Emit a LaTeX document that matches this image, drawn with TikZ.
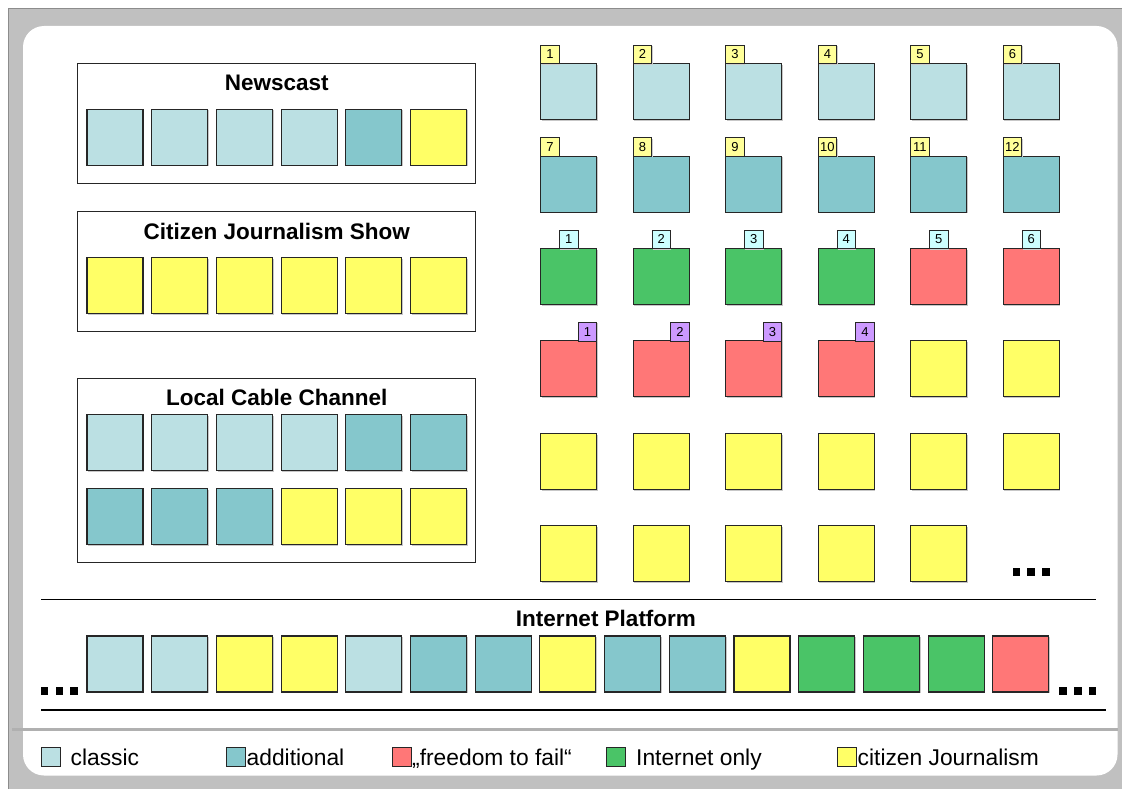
\documentclass[tikz,border=0pt]{standalone}
\usepackage{fontspec}
\setmainfont{Liberation Sans}
\usetikzlibrary{shadows}

\definecolor{classic}{RGB}{187,224,227}
\definecolor{additional}{RGB}{133,199,204}
\definecolor{citizen}{RGB}{255,255,102}
\definecolor{webonly}{RGB}{74,196,103}
\definecolor{failred}{RGB}{255,119,119}
\definecolor{tagyellow}{RGB}{255,255,153}
\definecolor{tagcyan}{RGB}{204,255,255}
\definecolor{tagviolet}{RGB}{204,153,255}
\definecolor{framegray}{RGB}{192,192,192}
\definecolor{rulegray}{RGB}{176,176,176}
\definecolor{edge}{RGB}{38,38,38}

\tikzset{
  tile/.style={draw=edge, line width=1.1pt, minimum width=56pt, minimum height=56pt,
    inner sep=0pt, outer sep=0pt, anchor=north west,
    drop shadow={shadow xshift=1.2pt, shadow yshift=-1.2pt, fill=black!22, opacity=1}},
  tag/.style={draw=edge, line width=0.8pt, minimum width=18.5pt, minimum height=18.5pt,
    inner sep=0pt, outer sep=0pt, font=\fontsize{13}{13}\selectfont,
    drop shadow={shadow xshift=1pt, shadow yshift=-1pt, fill=black!20, opacity=1}},
  groupbox/.style={draw=edge, line width=1pt, minimum width=398pt, inner sep=0pt,
    outer sep=0pt, anchor=north west},
  title/.style={anchor=base, inner sep=0pt, font=\fontsize{22.5}{26}\selectfont\bfseries},
  dotmark/.style={fill=black, minimum width=7.5pt, minimum height=7.5pt, inner sep=0pt, anchor=north west},
  keybox/.style={draw=edge, line width=0.9pt, minimum width=19pt, minimum height=19pt,
    inner sep=0pt, anchor=north west},
  keytext/.style={anchor=base west, inner sep=0pt, font=\fontsize{22.8}{26}\selectfont},
  rule/.style={draw=black, line width=1.3pt}
}

\begin{document}
\begin{tikzpicture}[x=1pt, y=-1pt]
\useasboundingbox (0,0) rectangle (1122,789);
\fill[white] (0,0) rectangle (1122,789);

% frame and panels
\filldraw[fill=framegray, draw=black!45, line width=0.8pt] (8,8) rectangle (1130,800);
\fill[white, rounded corners=21pt] (23,26) rectangle (1117.5,775.5);
\draw[rulegray, line width=3pt] (12,729) -- (1117.5,729);

% ---------- Newscast ----------
\node[groupbox, minimum height=120.4pt] (newscast) at (77.7,63.3) {};
\node[title] (newscast-t) at (276.7,91) {Newscast};
\foreach \i/\col in {1/classic,2/classic,3/classic,4/classic,5/additional,6/citizen} {
  \node[tile, fill=\col] (nw\i) at ({87+64.7*(\i-1)},109.3) {};
}

% ---------- Citizen Journalism Show ----------
\node[groupbox, minimum height=120pt] (cjshow) at (77.7,211.7) {};
\node[title] (cjshow-t) at (276.7,239.3) {Citizen Journalism Show};
\foreach \i in {1,...,6} {
  \node[tile, fill=citizen] (cj\i) at ({87+64.7*(\i-1)},257.3) {};
}

% ---------- Local Cable Channel ----------
\node[groupbox, minimum height=184.4pt] (cable) at (77.7,378.3) {};
\node[title] (cable-t) at (276.7,405) {Local Cable Channel};
\foreach \i/\col in {1/classic,2/classic,3/classic,4/classic,5/additional,6/additional} {
  \node[tile, fill=\col] (lca\i) at ({87+64.7*(\i-1)},414.3) {};
}
\foreach \i/\col in {1/additional,2/additional,3/additional,4/citizen,5/citizen,6/citizen} {
  \node[tile, fill=\col] (lcb\i) at ({87+64.7*(\i-1)},488.3) {};
}

% ---------- numbered grid ----------
\foreach \c in {1,...,6} {
  \node[tile, fill=classic] (ga\c) at ({540.7+92.5*(\c-1)},63.7) {};
  \node[tag, fill=tagyellow, anchor=south west] (ga\c-n) at (ga\c.north west) {\c};
}
\foreach \c in {1,...,6} {
  \pgfmathtruncatemacro\num{\c+6}
  \node[tile, fill=additional] (gb\c) at ({540.7+92.5*(\c-1)},156.1) {};
  \node[tag, fill=tagyellow, anchor=south west] (gb\c-n) at (gb\c.north west) {\num};
}
\foreach \c/\col in {1/webonly,2/webonly,3/webonly,4/webonly,5/failred,6/failred} {
  \node[tile, fill=\col] (gc\c) at ({540.7+92.5*(\c-1)},248.5) {};
  \node[tag, fill=tagcyan, anchor=south] (gc\c-n) at (gc\c.north) {\c};
}
\foreach \c in {1,...,4} {
  \node[tile, fill=failred] (gd\c) at ({540.7+92.5*(\c-1)},340.9) {};
  \node[tag, fill=tagviolet, anchor=south east] (gd\c-n) at (gd\c.north east) {\c};
}
\foreach \c in {5,6} {
  \node[tile, fill=citizen] (gd\c) at ({540.7+92.5*(\c-1)},340.9) {};
}
\foreach \c in {1,...,6} {
  \node[tile, fill=citizen] (ge\c) at ({540.7+92.5*(\c-1)},433.3) {};
}
\foreach \c in {1,...,5} {
  \node[tile, fill=citizen] (gf\c) at ({540.7+92.5*(\c-1)},525.7) {};
}
\foreach \k in {0,1,2} {
  \node[dotmark] (gdots\k) at ({1012.3+14.8*\k},568) {};
}

% ---------- Internet Platform ----------
\coordinate (ip-ul) at (41,599.5);
\coordinate (ip-ur) at (1096,599.5);
\coordinate (ip-ll) at (41,710);
\coordinate (ip-lr) at (1106,710);
\draw[rule] (ip-ul) -- (ip-ur);
\draw[rule] (ip-ll) -- (ip-lr);
\node[title] (ip-t) at (606,626.7) {Internet Platform};
\foreach \i/\col in {1/classic,2/classic,3/citizen,4/citizen,5/classic,6/additional,
                     7/additional,8/citizen,9/additional,10/additional,11/citizen,
                     12/webonly,13/webonly,14/webonly,15/failred} {
  \node[tile, fill=\col] (ip\i) at ({87+64.7*(\i-1)},636) {};
}
\foreach \k in {0,1,2} {
  \node[dotmark] (ipl\k) at ({40.5+14.8*\k},687) {};
  \node[dotmark] (ipr\k) at ({1059+14.8*\k},687) {};
}

% ---------- legend ----------
\node[keybox, fill=classic] (k1) at (41,747) {};
\node[keytext] (k1-t) at (70.5,765) {classic};
\node[keybox, fill=additional] (k2) at (226,747) {};
\node[keytext] (k2-t) at (246.5,765) {additional};
\node[keybox, fill=failred] (k3) at (391.5,747) {};
\node[keytext] (k3-t) at (412,765) {„freedom to fail“};
\node[keybox, fill=webonly] (k4) at (605.5,747) {};
\node[keytext] (k4-t) at (636,765) {Internet only};
\node[keybox, fill=citizen] (k5) at (836.7,747) {};
\node[keytext] (k5-t) at (857.5,765) {citizen Journalism};
\end{tikzpicture}
\end{document}
